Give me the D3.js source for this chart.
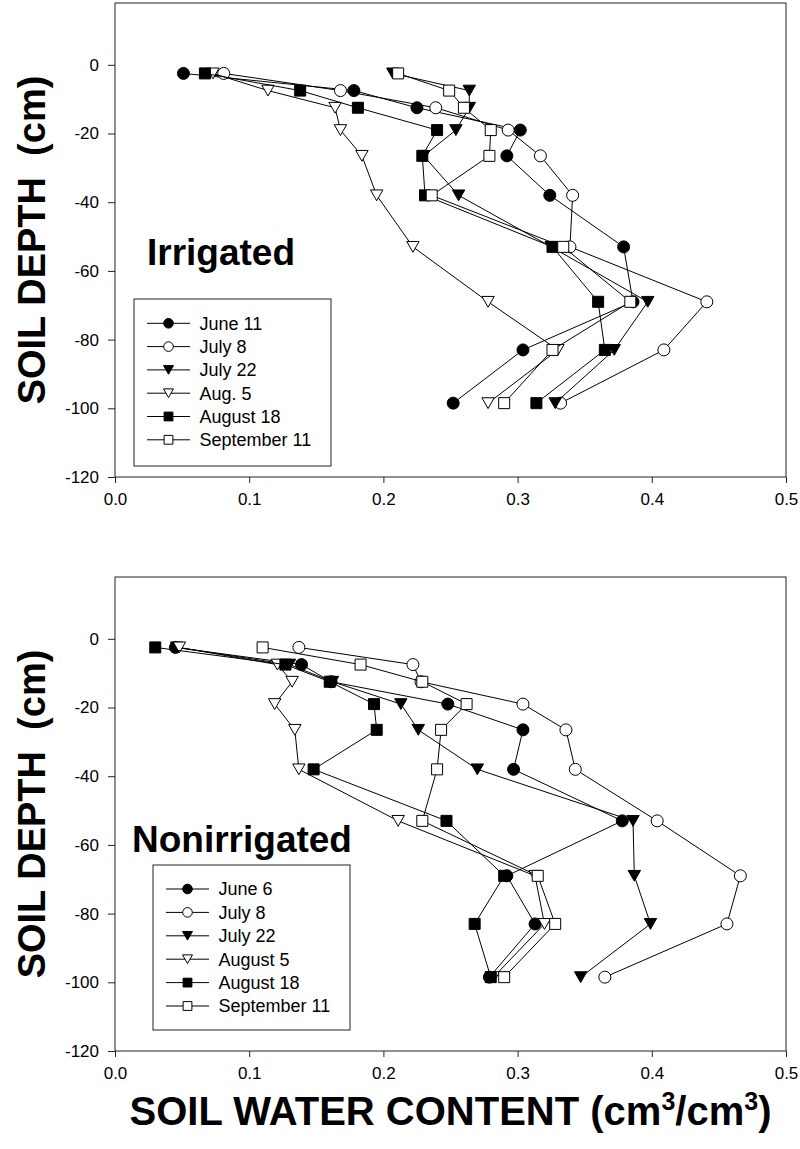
<!DOCTYPE html>
<html><head><meta charset="utf-8">
<script src="https://cdn.jsdelivr.net/npm/d3@7"></script>
<style>
body{margin:0;background:#fff}
svg{display:block}
text{font-family:"Liberation Sans",Arial,Helvetica,sans-serif;fill:#000}
</style>
</head><body>
<svg id="c" width="800" height="1149"></svg>
<script>
// ---------------- DATA ----------------
const depths = [-2.5, -7.5, -12.5, -19, -26.5, -38, -53, -69, -83, -98.5];

const irrigatedDates = ["June 11", "July 8", "July 22", "Aug. 5", "August 18", "September 11"];
const irrJune11 = [0.051, 0.178, 0.225, 0.302, 0.292, 0.324, 0.379, 0.386, 0.304, 0.252];
const irrJuly8  = [0.081, 0.168, 0.239, 0.293, 0.317, 0.341, 0.339, 0.441, 0.409, 0.332];
const irrJuly22 = [0.207, 0.264, 0.264, 0.254, 0.230, 0.256, 0.325, 0.397, 0.372, 0.328];
const irrAug5   = [0.073, 0.114, 0.164, 0.168, 0.184, 0.195, 0.222, 0.278, 0.330, 0.278];
const irrAug18  = [0.067, 0.138, 0.181, 0.240, 0.229, 0.231, 0.326, 0.360, 0.365, 0.314];
const irrSep11  = [0.211, 0.249, 0.260, 0.280, 0.279, 0.236, 0.334, 0.384, 0.326, 0.290];

const nonirrigatedDates = ["June 6", "July 8", "July 22", "August 5", "August 18", "September 11"];
const nonJune6  = [0.045, 0.139, 0.161, 0.248, 0.304, 0.297, 0.378, 0.292, 0.313, 0.279];
const nonJuly8  = [0.137, 0.222, 0.228, 0.304, 0.336, 0.343, 0.404, 0.466, 0.456, 0.365];
const nonJuly22 = [0.046, 0.130, 0.162, 0.213, 0.226, 0.270, 0.386, 0.387, 0.399, 0.347];
const nonAug5   = [0.048, 0.121, 0.132, 0.119, 0.134, 0.137, 0.211, 0.313, 0.320, 0.282];
const nonAug18  = [0.030, 0.127, 0.160, 0.193, 0.195, 0.148, 0.247, 0.290, 0.268, 0.280];
const nonSep11  = [0.110, 0.183, 0.229, 0.262, 0.243, 0.240, 0.229, 0.315, 0.328, 0.290];

const xTicks = [0.0, 0.1, 0.2, 0.3, 0.4, 0.5];
const yTicks = [-120, -100, -80, -60, -40, -20, 0];
const markerKinds = ["circleFilled", "circleOpen", "triFilled", "triOpen", "squareFilled", "squareOpen"];

const panelTitles = ["Irrigated", "Nonirrigated"];
const yTitle = "SOIL DEPTH\u00a0\u00a0(cm)";

// ---------------- DRAWING ----------------
const svg = d3.select("#c");
const X0 = 115, X1 = 786;

function markerPath(kind, s) {
  if (kind.startsWith("circle")) {
    return d3.symbol(d3.symbolCircle, Math.PI * Math.pow(6 * s, 2))();
  }
  if (kind.startsWith("square")) {
    const h = 5.5 * s;
    return `M${-h},${-h}H${h}V${h}H${-h}Z`;
  }
  const w = 6.2 * s, hh = 5.4 * s;
  return `M${-w},${-hh}L${w},${-hh}L0,${hh}Z`;
}
function markerFill(kind) { return kind.endsWith("Filled") ? "#000" : "#fff"; }

function panel(cfg) {
  const x = d3.scaleLinear().domain([0, 0.5]).range([X0, X1]);
  const y = d3.scaleLinear().domain([-120, 18]).range([cfg.bottom, cfg.top]);
  const g = svg.append("g");

  g.append("rect").attr("x", X0).attr("y", cfg.top)
    .attr("width", X1 - X0).attr("height", cfg.bottom - cfg.top)
    .attr("fill", "none").attr("stroke", "#222").attr("stroke-width", 1);

  const ax = g.append("g").attr("transform", `translate(0,${cfg.bottom})`)
    .call(d3.axisBottom(x).tickValues(xTicks).tickFormat(d3.format(".1f")).tickSizeOuter(0).tickSize(6).tickPadding(10));
  const ay = g.append("g").attr("transform", `translate(${X0},0)`)
    .call(d3.axisLeft(y).tickValues(yTicks).tickFormat(d => String(d)).tickSizeOuter(0).tickSize(7).tickPadding(9));
  [ax, ay].forEach(a => {
    a.select(".domain").remove();
    a.selectAll("line").attr("stroke", "#222");
    a.selectAll("text").style("font-size", "17px").attr("fill", "#000")
      .style("font-family", '"Liberation Sans",Arial,sans-serif');
  });

  g.append("text")
    .attr("transform", `translate(45,${(cfg.top + cfg.bottom) / 2}) rotate(-90)`)
    .attr("text-anchor", "middle")
    .style("font-size", "38px").style("font-weight", "bold")
    .text(yTitle);

  const line = d3.line().x(d => x(d.v)).y(d => y(d.d));
  cfg.series.forEach((vals, i) => {
    const pts = vals.map((v, j) => ({ v, d: depths[j] }));
    g.append("path").attr("d", line(pts)).attr("fill", "none")
      .attr("stroke", "#000").attr("stroke-width", 1);
    g.selectAll(null).data(pts).enter().append("path")
      .attr("transform", d => `translate(${x(d.v)},${y(d.d)})`)
      .attr("d", markerPath(markerKinds[i], 1))
      .attr("fill", markerFill(markerKinds[i]))
      .attr("stroke", "#000").attr("stroke-width", 1);
  });

  g.append("text").attr("x", cfg.labelX).attr("y", cfg.labelY)
    .style("font-size", "37px").style("font-weight", "bold").text(cfg.title);

  const L = cfg.legend;
  g.append("rect").attr("x", L.x).attr("y", L.y).attr("width", L.w).attr("height", L.h)
    .attr("fill", "#fff").attr("stroke", "#222").attr("stroke-width", 1);
  cfg.labels.forEach((lab, i) => {
    const ry = L.firstRow + i * L.step;
    g.append("line").attr("x1", L.x + 13).attr("x2", L.x + 56)
      .attr("y1", ry).attr("y2", ry).attr("stroke", "#000");
    g.append("path").attr("transform", `translate(${L.x + 34.5},${ry})`)
      .attr("d", markerPath(markerKinds[i], 0.8))
      .attr("fill", markerFill(markerKinds[i])).attr("stroke", "#000");
    g.append("text").attr("x", L.x + 65.5).attr("y", ry).attr("dy", "0.35em")
      .style("font-size", "18px").text(lab);
  });
}

panel({
  top: 3, bottom: 477, title: panelTitles[0], labelX: 147, labelY: 265,
  series: [irrJune11, irrJuly8, irrJuly22, irrAug5, irrAug18, irrSep11],
  labels: irrigatedDates,
  legend: { x: 134, y: 299, w: 197, h: 167, firstRow: 323.3, step: 23.3 }
});
panel({
  top: 577, bottom: 1051, title: panelTitles[1], labelX: 132, labelY: 852,
  series: [nonJune6, nonJuly8, nonJuly22, nonAug5, nonAug18, nonSep11],
  labels: nonirrigatedDates,
  legend: { x: 153, y: 865, w: 197, h: 165, firstRow: 889, step: 23.4 }
});

const xt = svg.append("text").attr("x", (X0 + X1) / 2).attr("y", 1125)
  .attr("text-anchor", "middle").style("font-size", "40px").style("font-weight", "bold");
xt.append("tspan").text("SOIL WATER CONTENT (cm");
xt.append("tspan").attr("dy", -15).style("font-size", "25px").text("3");
xt.append("tspan").attr("dy", 15).text("/cm");
xt.append("tspan").attr("dy", -15).style("font-size", "25px").text("3");
xt.append("tspan").attr("dy", 15).text(")");
</script>
</body></html>
